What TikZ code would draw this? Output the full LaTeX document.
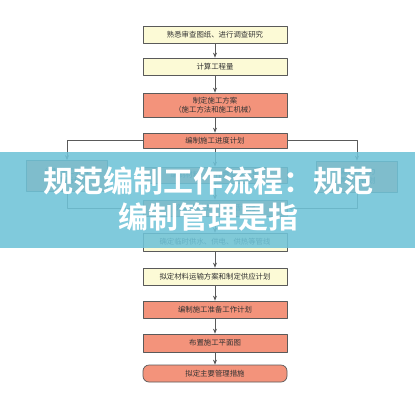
\documentclass[tikz,border=0pt]{standalone}
\usepackage{fontspec}
\newfontfamily\cjk{Noto Sans CJK SC}[BoldFont={Noto Sans CJK SC Bold}]
\usetikzlibrary{arrows.meta}
\definecolor{boxline}{HTML}{5A5A5A}
\definecolor{paleyel}{HTML}{FCFAD6}
\definecolor{salmon}{HTML}{F3937B}
\definecolor{bandblue}{HTML}{6FC3D8}
\begin{document}
\begin{tikzpicture}[x=1pt,y=-1pt,line cap=round,line join=round,font=\cjk\fontsize{7.4}{9}\selectfont,
  stepbox/.style={draw=boxline,line width=0.7pt,minimum width=144pt,minimum height=17pt,inner sep=1pt,text=black!80,align=center},
  yelbox/.style={stepbox,fill=paleyel},
  redbox/.style={stepbox,fill=salmon},
  sidebox/.style={redbox,minimum width=81pt,minimum height=31pt},
  flow/.style={draw=boxline,line width=0.7pt,-{Stealth[length=5pt,width=4pt]}}]
\useasboundingbox (0,0) rectangle (415,400);
\fill[white] (0,0) rectangle (415,400);
% main column
\node[yelbox] (survey) at (215,35) {熟悉审查图纸、进行调查研究};
\node[yelbox] (qty) at (215,66.5) {计算工程量};
\node[redbox,minimum height=24pt] (scheme) at (215,105) {制定施工方案\\（施工方法和施工机械）};
\node[redbox,minimum height=15pt] (prog) at (215,140.5) {编制施工进度计划};
\node[sidebox] (mach) at (67,176) {编制施工机械\\需要量计划};
\node[redbox,minimum height=16pt] (mat) at (215,175) {编制材料、构件需要量计划};
\node[sidebox] (labor) at (357,176.5) {编制劳动力\\需要量计划};
\node[redbox,minimum height=16pt] (temp) at (215,208) {确定临时生产、生活设施};
\node[yelbox,minimum height=18pt] (pipe) at (215,242) {确定临时供水、供电、供热等管线};
\node[yelbox] (trans) at (215,276.5) {拟定材料运输方案和制定供应计划};
\node[redbox] (prep) at (215,309.5) {编制施工准备工作计划};
\node[redbox,minimum height=18pt] (plan) at (215,343) {布置施工平面图};
\node[redbox,rounded corners=6pt] (meas) at (215,373.5) {拟定主要管理措施};
% connectors
\foreach \a/\b in {survey/qty,qty/scheme,scheme/prog,prog/mat,mat/temp,temp/pipe,pipe/trans,trans/prep,prep/plan,plan/meas}{\draw[flow] (\a) -- (\b);}
\draw[flow] (prog.west) -| (mach.north);
\draw[flow] (prog.east) -| (labor.north);
\draw[flow] (mach.south) |- (temp.west);
\draw[flow] (labor.south) |- (temp.east);
% title band
\fill[bandblue,opacity=0.88] (0,152) rectangle (415,248);
\node[text=white,font=\cjk\bfseries\fontsize{30}{36}\selectfont,align=center] (title) at (208,199) {规范编制工作流程：规范\\编制管理是指};
\end{tikzpicture}
\end{document}
